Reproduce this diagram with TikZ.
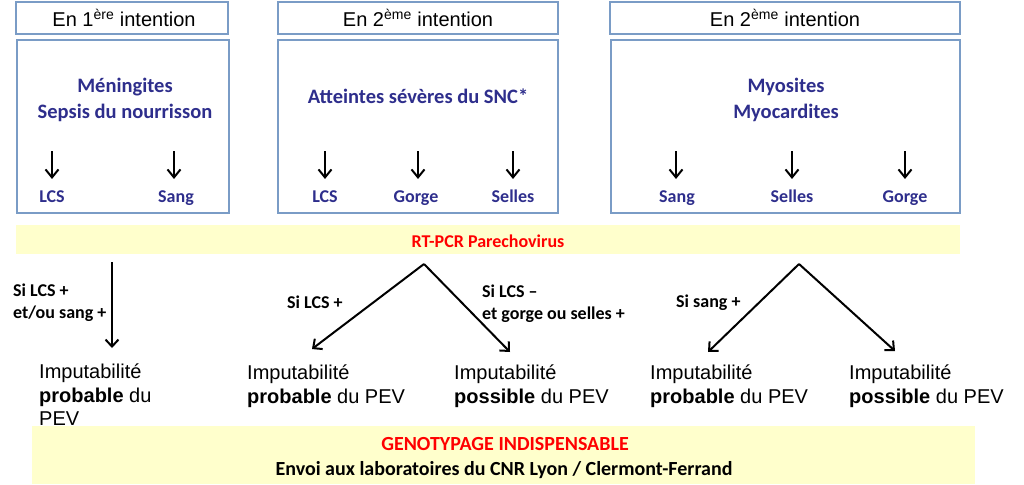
\documentclass[tikz,border=0pt]{standalone}
\usepackage{fontspec}
\setmainfont{Liberation Sans}
\newfontfamily\calfont{Carlito}
\usetikzlibrary{arrows.meta}
\definecolor{boxblue}{RGB}{122,156,198}
\definecolor{navy}{RGB}{46,46,140}
\definecolor{paleyel}{RGB}{255,255,204}
\definecolor{pcrred}{RGB}{255,0,0}
\tikzset{
  hdr/.style={draw=boxblue, line width=1.4pt, inner sep=0pt},
  hdrtxt/.style={font=\fontsize{20}{22}\selectfont, inner sep=0pt, anchor=base},
  mainbox/.style={draw=boxblue, line width=1.4pt, inner sep=0pt},
  bluetxt/.style={text=navy, font=\calfont\bfseries\fontsize{20.5}{24}\selectfont, inner sep=0pt, anchor=base},
  spec/.style={text=navy, font=\calfont\bfseries\fontsize{18}{20}\selectfont, inner sep=0pt, anchor=base},
  cond/.style={font=\calfont\bfseries\fontsize{18}{20}\selectfont, inner sep=0pt, anchor=base west},
  imput/.style={font=\fontsize{20}{24}\selectfont, inner sep=0pt, anchor=base west},
  sarrow/.style={line width=2pt, -{Straight Barb[length=8pt,width=13pt]}},
  barrow/.style={line width=2pt, -{Straight Barb[length=7pt,width=13pt]}},
  band/.style={fill=paleyel, inner sep=0pt}
}
\begin{document}
\begin{tikzpicture}[x=1pt,y=-1pt]
\useasboundingbox (0,0) rectangle (1024,484);

% headers
\node[hdr, minimum width=212, minimum height=32] (h1) at (122,18) {};
\node[hdr, minimum width=280, minimum height=32] (h2) at (418,18) {};
\node[hdr, minimum width=350, minimum height=32] (h3) at (785,18) {};
\node[hdrtxt] (h1t) at (124,27) {En 1\textsuperscript{ère} intention};
\node[hdrtxt] (h2t) at (418,27) {En 2\textsuperscript{ème} intention};
\node[hdrtxt] (h3t) at (785,27) {En 2\textsuperscript{ème} intention};

% main boxes
\node[mainbox, minimum width=212, minimum height=173] (b1) at (123,126.5) {};
\node[mainbox, minimum width=280, minimum height=173] (b2) at (418,126.5) {};
\node[mainbox, minimum width=349, minimum height=173] (b3) at (785.5,126.5) {};

% titles in boxes
\node[bluetxt] (t1a) at (125,93) {Méningites};
\node[bluetxt] (t1b) at (125,118) {Sepsis du nourrisson};
\node[bluetxt] (t2) at (418,103) {Atteintes sévères du SNC*};
\node[bluetxt] (t3a) at (786,93) {Myosites};
\node[bluetxt] (t3b) at (786,118) {Myocardites};

% specimen labels
\node[spec] (s11) at (52,202) {LCS};
\node[spec] (s12) at (176,202) {Sang};
\node[spec] (s21) at (325,202) {LCS};
\node[spec] (s22) at (416,202) {Gorge};
\node[spec] (s23) at (513,202) {Selles};
\node[spec] (s31) at (677,202) {Sang};
\node[spec] (s32) at (792,202) {Selles};
\node[spec] (s33) at (905,202) {Gorge};

% small arrows
\foreach \n/\x in {11/52,12/174,21/325,22/418,23/513,31/676,32/792,33/905}{
  \coordinate (a\n s) at (\x,151);
  \coordinate (a\n e) at (\x,179);
  \draw[sarrow] (a\n s) -- (a\n e);
}

% RT-PCR band
\node[band, minimum width=944, minimum height=29] (pcr) at (488,239.5) {};
\node[text=pcrred, font=\calfont\bfseries\fontsize{18}{20}\selectfont, inner sep=0pt, anchor=base] (pcrt) at (488,247) {RT-PCR Parechovirus};

% branch points
\coordinate (v0) at (112,262);
\coordinate (v1) at (112,348);
\coordinate (p2) at (424,264);
\coordinate (l2) at (312,349);
\coordinate (r2) at (510,352);
\coordinate (p3) at (799,264);
\coordinate (l3) at (708,352);
\coordinate (r3) at (895,351);

\draw[barrow] (v0) -- (v1);
\draw[barrow] (p2) -- (l2);
\draw[barrow] (p2) -- (r2);
\draw[barrow] (p3) -- (l3);
\draw[barrow] (p3) -- (r3);

% conditions
\node[cond] (c1a) at (13,296) {Si LCS +};
\node[cond] (c1b) at (13,318) {et/ou sang +};
\node[cond] (c2) at (287,308) {Si LCS +};
\node[cond] (c3a) at (482,297) {Si LCS –};
\node[cond] (c3b) at (482,319) {et gorge ou selles +};
\node[cond] (c4) at (676,307) {Si sang +};

% outcomes
\node[imput] (i1a) at (39,378) {Imputabilité};
\node[imput] (i1b) at (39,402) {\textbf{probable} du};
\node[imput] (i1c) at (39,425) {PEV};
\node[imput] (i2a) at (247,379) {Imputabilité};
\node[imput] (i2b) at (247,403) {\textbf{probable} du PEV};
\node[imput] (i3a) at (454,379) {Imputabilité};
\node[imput] (i3b) at (454,403) {\textbf{possible} du PEV};
\node[imput] (i4a) at (650,379) {Imputabilité};
\node[imput] (i4b) at (650,403) {\textbf{probable} du PEV};
\node[imput] (i5a) at (849,379) {Imputabilité};
\node[imput] (i5b) at (849,403) {\textbf{possible} du PEV};

% bottom band
\node[band, minimum width=943, minimum height=58] (geno) at (503.5,455) {};
\node[text=pcrred, font=\calfont\bfseries\fontsize{20}{22}\selectfont, inner sep=0pt, anchor=base] (g1) at (505,450) {GENOTYPAGE INDISPENSABLE};
\node[font=\calfont\bfseries\fontsize{20}{22}\selectfont, inner sep=0pt, anchor=base] (g2) at (504,475) {Envoi aux laboratoires du CNR Lyon / Clermont-Ferrand};
\end{tikzpicture}
\end{document}
